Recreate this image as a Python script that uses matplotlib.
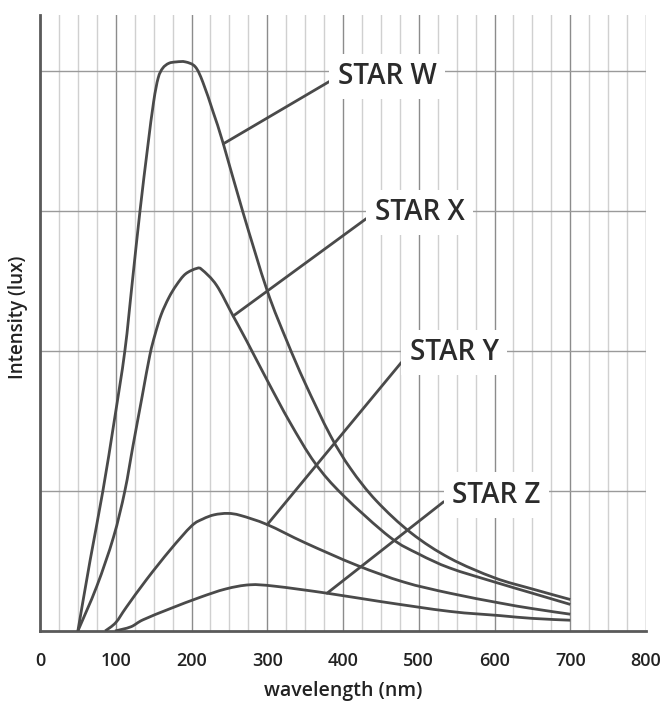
import matplotlib
matplotlib.use("Agg")
import matplotlib.pyplot as plt
import numpy as np
from matplotlib.path import Path
from matplotlib.patches import PathPatch
from matplotlib.ticker import MultipleLocator, NullFormatter

plt.rcParams['font.family'] = ['Open Sans', 'DejaVu Sans']

# ---- data (wavelength nm, intensity in grid units) ----
W_x = [50, 66, 83, 98, 112, 122, 132, 142, 150, 156, 162, 170, 180, 192, 205, 215, 229, 242, 268, 300, 326, 350, 383, 410, 444, 490, 541, 600, 650, 700]
W_y = [0, 0.5, 1.0, 1.5, 2.0, 2.5, 3.0, 3.45, 3.78, 3.95, 4.02, 4.055, 4.065, 4.065, 4.03, 3.92, 3.70, 3.48, 2.99, 2.43, 2.07, 1.77, 1.40, 1.16, 0.93, 0.70, 0.52, 0.38, 0.30, 0.225]

X_x = [50, 75, 97, 112, 123, 135, 145, 152, 160, 170, 180, 192, 207, 214, 233, 255, 273, 300, 330, 363, 400, 462, 500, 541, 600, 650, 700]
X_y = [0, 0.32, 0.67, 1.0, 1.33, 1.68, 1.97, 2.12, 2.26, 2.38, 2.47, 2.55, 2.59, 2.58, 2.47, 2.25, 2.07, 1.79, 1.49, 1.2, 0.97, 0.67, 0.55, 0.45, 0.35, 0.27, 0.19]

Y_x = [86, 100, 114, 141, 172, 200, 215, 230, 248, 265, 300, 350, 418, 480, 541, 607, 650, 700]
Y_y = [0, 0.06, 0.17, 0.37, 0.58, 0.75, 0.80, 0.83, 0.84, 0.825, 0.76, 0.63, 0.47, 0.35, 0.27, 0.2, 0.16, 0.12]

Z_x = [99, 120, 136, 172, 211, 245, 277, 310, 379, 450, 541, 607, 650, 700]
Z_y = [0, 0.03, 0.08, 0.16, 0.24, 0.3, 0.33, 0.32, 0.27, 0.21, 0.14, 0.11, 0.09, 0.077]

series_x = [W_x, X_x, Y_x, Z_x]
series_y = [W_y, X_y, Y_y, Z_y]
labels = ["STAR W", "STAR X", "STAR Y", "STAR Z"]
# leader line: anchor on curve, label position
anchor_x = [242, 255, 300, 379]
anchor_y = [3.48, 2.25, 0.76, 0.27]
label_x = [393, 442, 488, 544]
label_y = [3.96, 2.99, 1.99, 0.97]

x_ticks = [0, 100, 200, 300, 400, 500, 600, 700, 800]
h_grid = [1, 2, 3, 4]


def smooth_path(xs, ys):
    """Catmull-Rom style cubic Bezier path passing through the data points."""
    p = np.column_stack([xs, ys]).astype(float)
    verts = [p[0]]
    codes = [Path.MOVETO]
    n = len(p)
    for i in range(n - 1):
        p0 = p[i - 1] if i > 0 else p[i]
        p1, p2 = p[i], p[i + 1]
        p3 = p[i + 2] if i + 2 < n else p[i + 1]
        c1 = p1 + (p2 - p0) / 6.0
        c2 = p2 - (p3 - p1) / 6.0
        verts += [c1, c2, p2]
        codes += [Path.CURVE4] * 3
    return Path(verts, codes)


fig = plt.figure(figsize=(6.65, 7.09), dpi=100)
ax = fig.add_axes([40/665, 78/709, 606/665, 616/709])

curve_color = "#4a4a4a"
for xs, ys in zip(series_x, series_y):
    ax.add_patch(PathPatch(smooth_path(xs, ys), fill=False, ec=curve_color, lw=2.0,
                           joinstyle='round', capstyle='butt', zorder=3))

for lab, ax_, ay_, lx, ly in zip(labels, anchor_x, anchor_y, label_x, label_y):
    ax.annotate(lab, xy=(ax_, ay_), xytext=(lx, ly), ha='left', va='center',
                fontsize=20, fontweight='semibold', color="#2b2b2b", zorder=5,
                bbox=dict(boxstyle='square,pad=0.3', fc='white', ec='none'),
                arrowprops=dict(arrowstyle='-', color=curve_color, lw=2.0,
                                shrinkA=0, shrinkB=0, relpos=(0, 0.5)))

ax.set_xlim(0, 800)
ax.set_ylim(0, 4.4)
ax.set_xticks(x_ticks)
ax.set_xticklabels([str(t) for t in x_ticks], fontsize=13, fontweight='semibold', color="#222222")
ax.xaxis.set_minor_locator(MultipleLocator(25))
ax.set_yticks(h_grid)
ax.yaxis.set_major_formatter(NullFormatter())
ax.tick_params(axis='both', which='both', length=0, pad=15)

ax.set_axisbelow(True)
ax.grid(True, axis='x', which='major', color="#8c8c8c", lw=1.0)
ax.grid(True, axis='x', which='minor', color="#d0d0d0", lw=1.0)
ax.grid(True, axis='y', which='major', color="#9a9a9a", lw=1.0)

for s in ['top', 'right']:
    ax.spines[s].set_visible(False)
for s in ['left', 'bottom']:
    ax.spines[s].set_color("#5a5a5a")
    ax.spines[s].set_linewidth(2.0)

ax.set_xlabel("wavelength (nm)", fontsize=14, fontweight='semibold', color="#222222")
ax.xaxis.set_label_coords(0.5, -50/616)
ax.set_ylabel("Intensity (lux)", fontsize=13.5, fontweight='semibold', color="#222222")
ax.yaxis.set_label_coords(-12/606, 0.51)

fig.savefig("out.png", dpi=100, facecolor='white')
